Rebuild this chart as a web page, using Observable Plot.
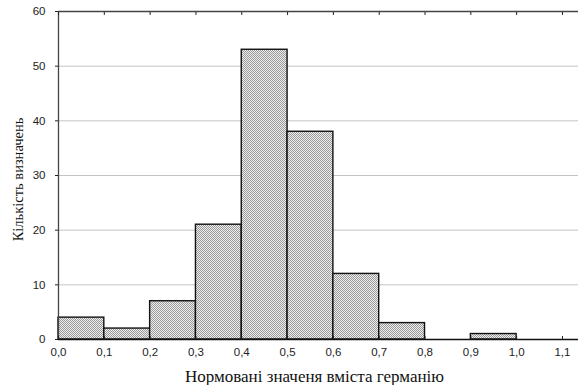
<!DOCTYPE html>
<html>
<head>
<meta charset="utf-8">
<script src="https://cdn.jsdelivr.net/npm/d3@7"></script>
<script src="https://cdn.jsdelivr.net/npm/@observablehq/plot@0.6"></script>
<style>
  html, body { margin: 0; padding: 0; background: #fff; }
  #chart { width: 579px; height: 385px; }
</style>
</head>
<body>
<div id="chart"></div>
<script>
// Data
const binStarts = [0.0, 0.1, 0.2, 0.3, 0.4, 0.5, 0.6, 0.7, 0.8, 0.9, 1.0];
const binWidth = 0.1;
const counts    = [4, 2, 7, 21, 53, 38, 12, 3, 0, 1, 0];
const xTicks = [0.0, 0.1, 0.2, 0.3, 0.4, 0.5, 0.6, 0.7, 0.8, 0.9, 1.0, 1.1];
const yTicks = [0, 10, 20, 30, 40, 50, 60];
const xDomain = [0, 1.135];
const yDomain = [0, 60];
const xLabel = "Нормовані значеня вміста германію";
const yLabel = "Кількість визначень";

const bins = binStarts.map((s, i) => ({x1: s, x2: +(s + binWidth).toFixed(2), y: counts[i]}))
  .filter(d => d.y > 0);

const fmt = d => d3.format(".1f")(d).replace(".", ",");
const serif = "'Liberation Serif', 'DejaVu Serif', 'Times New Roman', serif";

const plot = Plot.plot({
  width: 579,
  height: 385,
  marginLeft: 58,
  marginRight: 1,
  marginTop: 11,
  marginBottom: 46,
  style: {fontFamily: "'Liberation Sans', Arial, sans-serif", fontSize: "11px", color: "#222", background: "#fff"},
  x: {domain: xDomain},
  y: {domain: yDomain},
  marks: [
    Plot.gridY(yTicks.filter(v => v > yDomain[0] && v < yDomain[1]), {stroke: "#c4c4c4", strokeOpacity: 1, strokeWidth: 1}),
    Plot.rectY(bins, {x1: "x1", x2: "x2", y: "y", fill: "url(#dots)", stroke: "#111", strokeWidth: 1.4}),
    Plot.ruleY([yDomain[1]], {stroke: "#444", strokeWidth: 1.3}),
    Plot.ruleY([yDomain[0]], {stroke: "#111", strokeWidth: 1.3}),
    Plot.ruleX([xDomain[0]], {stroke: "#444", strokeWidth: 1.3}),
    Plot.axisX({anchor: "bottom", ticks: xTicks, tickFormat: fmt, tickSize: -3, tickPadding: 11, label: null, fontSize: 11.5}),
    Plot.axisX({anchor: "top", ticks: xTicks, tickFormat: () => "", tickSize: -3, label: null}),
    Plot.axisY({anchor: "left", ticks: yTicks, tickSize: 3, tickPadding: 10, label: null, fontSize: 11.5}),
    Plot.text([xLabel], {frameAnchor: "bottom", lineAnchor: "bottom", textAnchor: "middle", dx: -4, dy: 42, text: d => d, fontFamily: serif, fontSize: 17, fill: "#111"}),
    Plot.text([yLabel], {frameAnchor: "left", textAnchor: "middle", lineAnchor: "middle", dx: -40, dy: 4, rotate: -90, text: d => d, fontFamily: serif, fontSize: 14.5, fill: "#111"})
  ]
});

// pattern fill (stippled grey)
const ns = "http://www.w3.org/2000/svg";
const defs = document.createElementNS(ns, "defs");
const pat = document.createElementNS(ns, "pattern");
pat.setAttribute("id", "dots");
pat.setAttribute("patternUnits", "userSpaceOnUse");
pat.setAttribute("width", "2");
pat.setAttribute("height", "2");
const mk = (x, y, c) => {
  const r = document.createElementNS(ns, "rect");
  r.setAttribute("x", x); r.setAttribute("y", y);
  r.setAttribute("width", 1); r.setAttribute("height", 1);
  r.setAttribute("fill", c);
  r.setAttribute("shape-rendering", "crispEdges");
  pat.appendChild(r);
};
mk(0, 0, "#999999"); mk(1, 1, "#999999"); mk(1, 0, "#eeeeee"); mk(0, 1, "#eeeeee");
defs.appendChild(pat);
plot.insertBefore(defs, plot.firstChild);

document.getElementById("chart").appendChild(plot);
</script>
</body>
</html>
